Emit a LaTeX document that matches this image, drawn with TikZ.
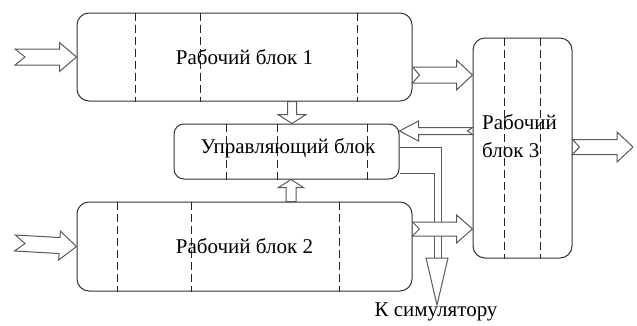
\documentclass[tikz,border=0pt]{standalone}
\usepackage{fontspec}
\setmainfont{Liberation Serif}
\usetikzlibrary{calc}
\tikzset{
  block/.style={draw=black!80,line width=1pt,rounded corners=12pt,inner sep=0pt},
  divider/.style={draw=black!85,line width=1pt,dash pattern=on 8pt off 4pt},
  fat/.style={draw=black!65,fill=white,line width=1pt,line join=miter},
  simline/.style={draw=black!65,line width=1pt},
  lbl/.style={font=\fontsize{21}{28}\selectfont,inner sep=0pt}
}
\newcommand\fatarrow[6][8pt]{%
  \path ($(#3)!#6!(#2)$) coordinate (hb);
  \draw[fat] ($(#2)!#4!90:(#3)$) -- ($(hb)!#4!-90:(#2)$) -- ($(hb)!#5!-90:(#2)$)
    -- (#3) -- ($(hb)!#5!90:(#2)$) -- ($(hb)!#4!90:(#2)$) -- ($(#2)!#4!-90:(#3)$)
    -- ($(#2)!#1!(#3)$) -- cycle;}
\begin{document}
\begin{tikzpicture}[x=1pt,y=-1pt]
\useasboundingbox (0,0) rectangle (637,325);
\node[block,minimum width=335pt,minimum height=88pt] (w1) at (244.5,57) {};
\node[block,minimum width=335pt,minimum height=89pt] (w2) at (244.5,246.5) {};
\node[block,rounded corners=10pt,minimum width=225pt,minimum height=55pt] (ctl) at (286.5,151.5) {};
\node[block,minimum width=99pt,minimum height=220pt] (w3) at (522.5,148) {};
\foreach \x in {135,200,357} \draw[divider] (w1.north -| \x,0) -- (w1.south -| \x,0);
\foreach \x in {117,191,339} \draw[divider] (w2.north -| \x,0) -- (w2.south -| \x,0);
\foreach \x in {226,277,367} \draw[divider] (ctl.north -| \x,0) -- (ctl.south -| \x,0);
\foreach \x in {504,540} \draw[divider] (w3.north -| \x,0) -- (w3.south -| \x,0);
\node[lbl] (t1) at (w1) {Рабочий блок 1};
\node[lbl] (t2) at (w2) {Рабочий блок 2};
\node[lbl] (tc) at (288,148) {Управляющий блок};
\node[lbl,anchor=north west,align=left] (t3) at (482,114) {Рабочий\\блок 3};
\coordinate (in1) at (15,57);
\coordinate (in2) at (15,243);
\coordinate (out) at (633,147);
\coordinate (sim) at (437,305);
\draw[simline] (ctl.east |- 0,147) -| (441,258);
\draw[simline] (ctl.east |- 0,173) -| (434,258);
\draw[fat] (426,258) -- (sim) -- (448,258) -- cycle;
\node[lbl,anchor=north] (ts) at (436,303) {К симулятору};
\fatarrow[10pt]{in1}{w1.west}{8pt}{14.5pt}{17pt}
\fatarrow[10pt]{in2}{w2.west}{8pt}{14.5pt}{17pt}
\fatarrow[7pt]{w1.east |- 0,75}{w3.west |- 0,75}{8pt}{15pt}{16pt}
\fatarrow[7pt]{w2.east |- 0,229}{w3.west |- 0,229}{7pt}{14pt}{16pt}
\fatarrow[7pt]{w3.east |- 0,147}{out}{7.5pt}{15pt}{16pt}
\fatarrow[5pt]{w3.west |- 0,131}{ctl.east |- 0,131}{3.5pt}{10pt}{19pt}
\fatarrow[0pt]{w1.south -| 292,0}{ctl.north -| 292,0}{4.5pt}{14pt}{9pt}
\fatarrow[0pt]{w2.north -| 291,0}{ctl.south -| 291,0}{5pt}{12.5pt}{8pt}
\end{tikzpicture}
\end{document}
